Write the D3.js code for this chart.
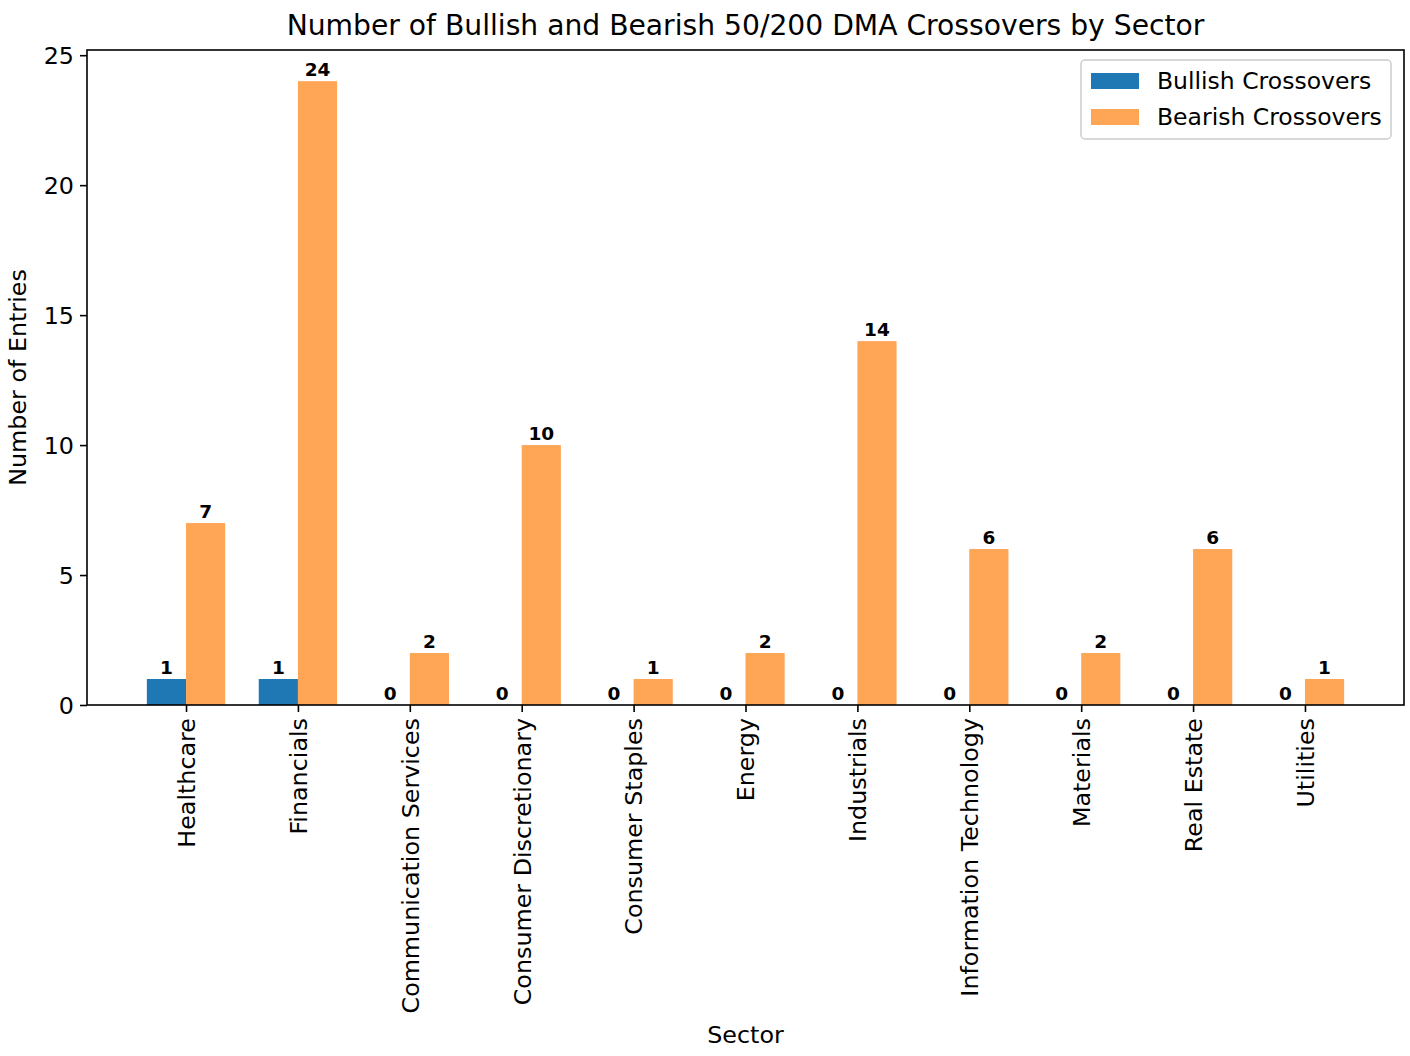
<!DOCTYPE html>
<html lang="en">
<head>
    <meta charset="UTF-8">
    <title>DMA Crossovers by Sector</title>
    <script src="https://d3js.org/d3.v7.min.js"></script>
    <style>
        body { margin: 0; background: #fff; }
        text { font-family: "DejaVu Sans", sans-serif; }
    </style>
</head>
<body>
    <div id="chart"></div>
    <script>
        // data
        const sectors = ["Healthcare", "Financials", "Communication Services", "Consumer Discretionary",
            "Consumer Staples", "Energy", "Industrials", "Information Technology", "Materials",
            "Real Estate", "Utilities"];
        const bullish = [1, 1, 0, 0, 0, 0, 0, 0, 0, 0, 0];
        const bearish = [7, 24, 2, 10, 1, 2, 14, 6, 2, 6, 1];
        const seriesNames = ["Bullish Crossovers", "Bearish Crossovers"];
        const yTicks = [0, 5, 10, 15, 20, 25];

        const W = 1410, H = 1056;
        const margin = { top: 50, right: 6, bottom: 351, left: 87 };
        const width = W - margin.left - margin.right,
            height = H - margin.top - margin.bottom;
        const barW = 0.35;

        const svg = d3.select("#chart").append("svg")
            .attr("width", W).attr("height", H);
        const g = svg.append("g")
            .attr("transform", `translate(${margin.left},${margin.top})`);

        // scales (matplotlib-like margins)
        const x = d3.scaleLinear().domain([-0.885, sectors.length - 1 + 0.885]).range([0, width]);
        const y = d3.scaleLinear().domain([0, 25.2]).range([height, 0]);
        const pxW = x(barW) - x(0);

        // bars
        const colors = ["#1f77b4", "#ffa556"];
        [bullish, bearish].forEach((vals, s) => {
            const off = s === 0 ? -barW / 2 : barW / 2;
            g.append("g").selectAll("rect")
                .data(vals)
                .enter().append("rect")
                .attr("x", (d, i) => x(i + off) - pxW / 2)
                .attr("y", d => y(d))
                .attr("width", pxW)
                .attr("height", d => y(0) - y(d))
                .attr("fill", colors[s]);

            g.append("g").selectAll("text")
                .data(vals)
                .enter().append("text")
                .attr("x", (d, i) => x(i + off))
                .attr("y", d => y(d) - 5)
                .attr("text-anchor", "middle")
                .attr("font-size", "18.5px")
                .attr("font-weight", "bold")
                .text(d => d);
        });

        // axes
        const yAxis = g.append("g")
            .call(d3.axisLeft(y).tickValues(yTicks).tickSize(7).tickPadding(6));
        yAxis.selectAll("text").attr("font-size", "23.8px").attr("fill", "#000").attr("dy", "0.35em");

        const xAxis = g.append("g")
            .attr("transform", `translate(0,${height})`)
            .call(d3.axisBottom(x).tickValues(d3.range(sectors.length))
                .tickFormat(i => sectors[i]).tickSize(7).tickPadding(5));
        xAxis.selectAll("text")
            .attr("font-size", "23.8px")
            .attr("fill", "#000")
            .attr("transform", "rotate(-90)")
            .attr("text-anchor", "end")
            .attr("x", -13)
            .attr("y", 0)
            .attr("dy", "0.35em");
        g.selectAll(".domain").remove();
        g.selectAll(".tick line").attr("stroke", "#000").attr("stroke-width", 1.6);

        // frame
        g.append("rect")
            .attr("width", width).attr("height", height)
            .attr("fill", "none").attr("stroke", "#000").attr("stroke-width", 1.6);

        // titles
        svg.append("text")
            .attr("x", margin.left + width / 2).attr("y", 35)
            .attr("text-anchor", "middle").attr("font-size", "28.2px")
            .text("Number of Bullish and Bearish 50/200 DMA Crossovers by Sector");
        svg.append("text")
            .attr("x", margin.left + width / 2).attr("y", 1043)
            .attr("text-anchor", "middle").attr("font-size", "23.8px")
            .text("Sector");
        svg.append("text")
            .attr("transform", `translate(26,${margin.top + height / 2}) rotate(-90)`)
            .attr("text-anchor", "middle").attr("font-size", "23.8px")
            .text("Number of Entries");

        // legend
        const lg = svg.append("g").attr("transform", "translate(1081,60)");
        lg.append("rect")
            .attr("width", 310).attr("height", 79).attr("rx", 4)
            .attr("fill", "#fff").attr("stroke", "#ccc").attr("stroke-width", 1.5);
        seriesNames.forEach((name, i) => {
            lg.append("rect")
                .attr("x", 10).attr("y", 13 + i * 36)
                .attr("width", 48).attr("height", 16)
                .attr("fill", colors[i]);
            lg.append("text")
                .attr("x", 76).attr("y", 21 + i * 36).attr("dy", "0.35em")
                .attr("font-size", "23.5px")
                .text(name);
        });
    </script>
</body>
</html>
